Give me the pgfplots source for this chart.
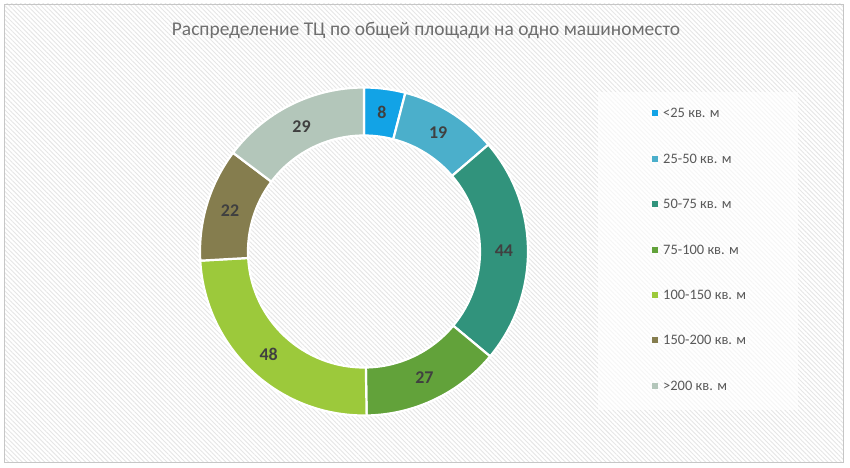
\documentclass[border=0pt]{standalone}
\usepackage{fontspec}
\setmainfont{Carlito}
\usepackage{pgfplots}
\pgfplotsset{compat=1.18}
\usetikzlibrary{patterns.meta}

\definecolor{c1}{HTML}{12A3E6}
\definecolor{c2}{HTML}{4BAFCB}
\definecolor{c3}{HTML}{31937C}
\definecolor{c4}{HTML}{62A23A}
\definecolor{c5}{HTML}{9CC93B}
\definecolor{c6}{HTML}{857D4E}
\definecolor{c7}{HTML}{B3C6BA}
\definecolor{titlegray}{HTML}{6E6E6E}
\definecolor{lblgray}{HTML}{404040}
\definecolor{leggray}{HTML}{595959}
\definecolor{hatch}{HTML}{E6E6E6}

\tikzset{
  lbl/.style={font=\fontsize{18}{21}\selectfont\bfseries, text=lblgray, inner sep=0pt},
  legtxt/.style={font=\fontsize{14.5}{17}\selectfont, text=leggray, anchor=west, inner sep=0pt},
}

% value / colour / legend text
\def\donutdata{8/c1/{<25 кв. м},19/c2/{25-50 кв. м},44/c3/{50-75 кв. м},27/c4/{75-100 кв. м},48/c5/{100-150 кв. м},22/c6/{150-200 кв. м},29/c7/{>200 кв. м}}

\begin{document}
\begin{tikzpicture}
\begin{axis}[
  scale only axis, width=850bp, height=467bp,
  xmin=0, xmax=850, ymin=0, ymax=467, y dir=reverse,
  hide axis, clip=false,
]
% background
\fill[white] (axis cs:0,0) rectangle (axis cs:850,467);
\fill[pattern={Lines[angle=-45,distance=3.2bp,line width=0.9bp]}, pattern color=hatch]
  (axis cs:4,4) rectangle (axis cs:843,462);
\draw[draw=gray!45, line width=0.8bp] (axis cs:4,4) rectangle (axis cs:843,462);
% legend box
\fill[white, opacity=0.65] (axis cs:598,92) rectangle (axis cs:798,410);

% title
\node[font=\fontsize{19.5}{23}\selectfont, text=titlegray] at (axis cs:426,30) {Распределение ТЦ по общей площади на одно машиноместо};

% total
\gdef\total{0}
\foreach \v/\c/\l in \donutdata {
  \pgfmathsetmacro\newt{\total+\v}\global\let\total\newt
}
% donut
\gdef\cum{0}
\foreach \v/\c/\l [count=\i] in \donutdata {
  \pgfmathsetmacro\aS{90-\cum/\total*360}
  \pgfmathsetmacro\aE{90-(\cum+\v)/\total*360}
  \pgfmathsetmacro\aM{(\aS+\aE)/2}
  \pgfmathsetmacro\xS{364+164*cos(\aS)}
  \pgfmathsetmacro\yS{251.5-164*sin(\aS)}
  \pgfmathsetmacro\xI{364+116*cos(\aE)}
  \pgfmathsetmacro\yI{251.5-116*sin(\aE)}
  \pgfmathsetmacro\xM{364+140*cos(\aM)}
  \pgfmathsetmacro\yM{251.5-140*sin(\aM)}
  \pgfmathsetmacro\yL{113.3+45.4*(\i-1)}
  \edef\temp{%
    \noexpand\fill[\c, draw=white, line width=2.2bp, line join=miter]
      (axis cs:\xS,\yS) arc[start angle=\aS, end angle=\aE, radius=164bp]
      -- (axis cs:\xI,\yI) arc[start angle=\aE, end angle=\aS, radius=116bp] -- cycle;
    \noexpand\node[lbl] at (axis cs:\xM,\yM) {\v};
    \noexpand\fill[\c] (axis cs:652,\yL) ++(-0bp,-3bp) rectangle ++(6bp,6bp);
    \noexpand\node[legtxt] at (axis cs:663,\yL) {\unexpanded\expandafter{\l}};
  }%
  \temp
  \pgfmathsetmacro\newcum{\cum+\v}\global\let\cum\newcum
}
\end{axis}
\end{tikzpicture}
\end{document}
